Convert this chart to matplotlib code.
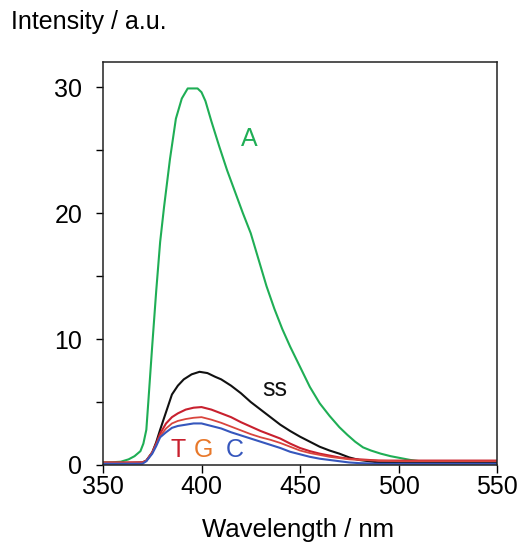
import matplotlib
matplotlib.use("Agg")
import matplotlib.pyplot as plt
from matplotlib.ticker import MultipleLocator

plt.rcParams['font.family'] = ['Liberation Sans', 'DejaVu Sans']

# Spektren
wl_A = [350, 355, 359, 363, 366, 369, 370.5, 372, 373, 375, 377, 379, 381, 384, 387, 390,
        393, 398, 400, 402, 405, 409, 413, 417, 421, 425, 429, 433, 437, 441,
        445, 450, 455, 460, 465, 470, 474, 478, 482, 486, 491, 496, 501, 506, 511, 520, 535, 550]
int_A = [0.2, 0.22, 0.26, 0.45, 0.7, 1.1, 1.7, 2.8, 5.0, 9.5, 13.8, 17.7, 20.5, 24.3, 27.5, 29.1,
         29.9, 29.9, 29.6, 28.9, 27.3, 25.3, 23.4, 21.7, 20.0, 18.4, 16.3, 14.2, 12.4, 10.8,
         9.4, 7.8, 6.2, 4.9, 3.9, 3.0, 2.4, 1.85, 1.4, 1.15, 0.9, 0.7, 0.55, 0.4, 0.3, 0.25, 0.2, 0.2]

wl_ss = [350, 360, 370, 372, 375, 377, 379, 382, 385, 388, 391, 395, 399, 403, 407, 410, 415,
         420, 425, 430, 435, 440, 445, 450, 455, 460, 465, 470, 475, 480, 485, 490, 500, 550]
int_ss = [0.15, 0.15, 0.2, 0.35, 1.0, 1.8, 2.8, 4.2, 5.6, 6.3, 6.8, 7.2, 7.4, 7.3, 7.0, 6.8, 6.3,
          5.7, 5.0, 4.4, 3.8, 3.2, 2.7, 2.25, 1.85, 1.45, 1.15, 0.9, 0.6, 0.4, 0.3, 0.2, 0.2, 0.2]

wl_low = [350, 370, 372, 375, 377, 379, 382, 385, 388, 392, 396, 400, 405, 410, 415, 420, 425,
          430, 435, 440, 445, 450, 455, 460, 465, 470, 475, 480, 490, 500, 525, 550]
int_T = [0.2, 0.2, 0.35, 1.0, 1.7, 2.5, 3.3, 3.8, 4.1, 4.4, 4.55, 4.6, 4.4, 4.1, 3.8, 3.4, 3.05,
         2.7, 2.4, 2.1, 1.7, 1.35, 1.1, 0.9, 0.75, 0.6, 0.5, 0.45, 0.35, 0.35, 0.35, 0.35]
int_G = [0.2, 0.2, 0.35, 1.0, 1.6, 2.3, 2.9, 3.3, 3.5, 3.65, 3.75, 3.8, 3.6, 3.35, 3.05, 2.75, 2.45,
         2.2, 2.0, 1.75, 1.45, 1.15, 0.95, 0.8, 0.65, 0.55, 0.45, 0.4, 0.35, 0.3, 0.3, 0.3]
int_C = [0.1, 0.1, 0.3, 0.9, 1.5, 2.2, 2.6, 2.95, 3.1, 3.2, 3.3, 3.3, 3.1, 2.9, 2.6, 2.35, 2.1,
         1.85, 1.6, 1.35, 1.05, 0.85, 0.65, 0.5, 0.4, 0.3, 0.2, 0.15, 0.1, 0.1, 0.1, 0.1]

green = '#1fae55'
red_T = '#c8202e'
red_G = '#d9453d'
blue_C = '#3657bd'
orange = '#e8782a'

fig = plt.figure(figsize=(5.27, 5.42), dpi=100)
ax = fig.add_axes([103 / 527, 1 - 465 / 542, 394 / 527, 403 / 542])

ax.plot(wl_A, int_A, color=green, lw=1.5)
ax.plot(wl_ss, int_ss, color='#111111', lw=1.5)
ax.plot(wl_low, int_T, color=red_T, lw=1.5)
ax.plot(wl_low, int_G, color=red_G, lw=1.3)
ax.plot(wl_low, int_C, color=blue_C, lw=1.5)

ax.text(424.5, 25.9, 'A', color=green, fontsize=18, ha='center', va='center')
ax.text(437, 6.0, 'ss', color='#111111', fontsize=18, ha='center', va='center')
ax.text(388, 1.2, 'T', color=red_T, fontsize=18, ha='center', va='center')
ax.text(401, 1.2, 'G', color=orange, fontsize=18, ha='center', va='center')
ax.text(417, 1.2, 'C', color=blue_C, fontsize=18, ha='center', va='center')

ax.set_xlim(350, 550)
ax.set_ylim(0, 32)
ax.set_xticks([350, 400, 450, 500, 550])
ax.set_yticks([0, 10, 20, 30])
ax.yaxis.set_minor_locator(MultipleLocator(5))
ax.tick_params(axis='x', direction='out', length=6, width=1, pad=1, labelsize=18)
ax.tick_params(axis='y', which='both', direction='out', length=5, width=1, pad=10, labelsize=18)
for s in ax.spines.values():
    s.set_linewidth(1.1)
    s.set_color('#222222')

fig.text(11 / 527, 1 - 22 / 542, 'Intensity / a.u.', fontsize=18, ha='left', va='center')
fig.text(298 / 527, 1 - 530 / 542, 'Wavelength / nm', fontsize=18.5, ha='center', va='center')

fig.savefig('out.png', dpi=100)
